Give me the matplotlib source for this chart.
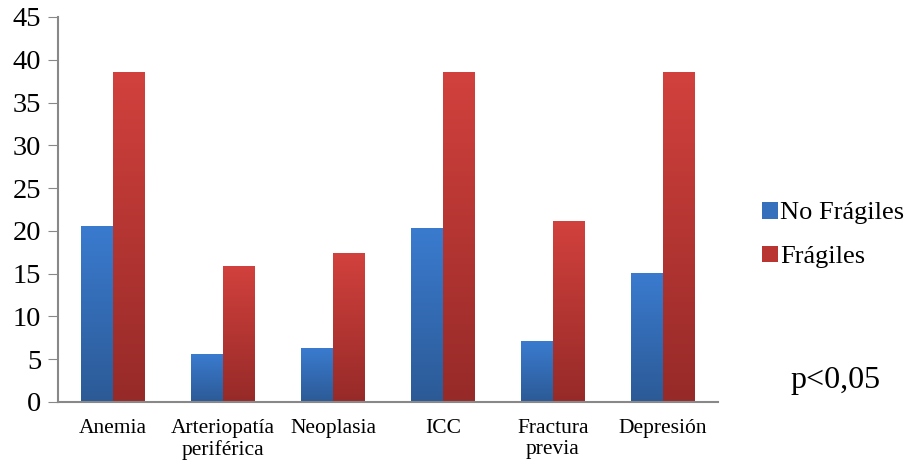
import numpy as np
import matplotlib.pyplot as plt
from matplotlib.colors import LinearSegmentedColormap
from matplotlib.patches import Patch

categorias = ["Anemia", "Arteriopatía\nperiférica", "Neoplasia", "ICC", "Fractura\nprevia", "Depresión"]
no_fragiles = [20.6, 5.6, 6.3, 20.3, 7.1, 15.1]
fragiles = [38.6, 15.9, 17.4, 38.6, 21.2, 38.6]

plt.rcParams['font.family'] = ['Liberation Serif', 'DejaVu Serif']

fig = plt.figure(figsize=(9.08, 4.65), dpi=100)
ax = fig.add_axes([0.0639, 0.1355, 0.7268, 0.828])

x = np.arange(len(categorias))
ancho = 0.29

cmap_azul = LinearSegmentedColormap.from_list("azul", ["#2c5a96", "#3a7bcf"])
cmap_rojo = LinearSegmentedColormap.from_list("rojo", ["#962a28", "#d2413d"])
grad = np.linspace(0, 1, 256).reshape(-1, 1)


def barras_degradado(pos, valores, cmap):
    barras = ax.bar(pos, valores, ancho, color="none", edgecolor="none")
    for b in barras:
        x0, y0 = b.get_x(), b.get_y()
        w, h = b.get_width(), b.get_height()
        im = ax.imshow(grad, cmap=cmap, origin="lower", aspect="auto",
                       extent=[x0, x0 + w, y0, y0 + h], zorder=2)
        im.set_clip_path(b)


barras_degradado(x - ancho / 2, no_fragiles, cmap_azul)
barras_degradado(x + ancho / 2, fragiles, cmap_rojo)

ax.set_xlim(-0.5, len(categorias) - 0.5)
ax.set_ylim(0, 45)
ax.set_yticks(np.arange(0, 46, 5))
ax.set_xticks(x)
ax.set_xticklabels(categorias, fontsize=15.5, linespacing=1.15)
ax.tick_params(axis="y", labelsize=20.5, length=7, color="#888888", pad=5)
ax.tick_params(axis="x", length=0, pad=12)

for s in ["top", "right"]:
    ax.spines[s].set_visible(False)
for s in ["left", "bottom"]:
    ax.spines[s].set_color("#888888")
    ax.spines[s].set_linewidth(1.5)

handles = [Patch(facecolor="#3470bc", label="No Frágiles"),
           Patch(facecolor="#b83532", label="Frágiles")]
fig.legend(handles=handles, loc="center left", bbox_to_anchor=(0.839, 0.4946),
           frameon=False, fontsize=19, handlelength=0.6, handleheight=0.6,
           handletextpad=0.08, labelspacing=0.8, borderpad=0, borderaxespad=0)

fig.text(0.92, 0.182, "p<0,05", fontsize=23, ha="center", va="center")

fig.savefig("out.png", dpi=100)
